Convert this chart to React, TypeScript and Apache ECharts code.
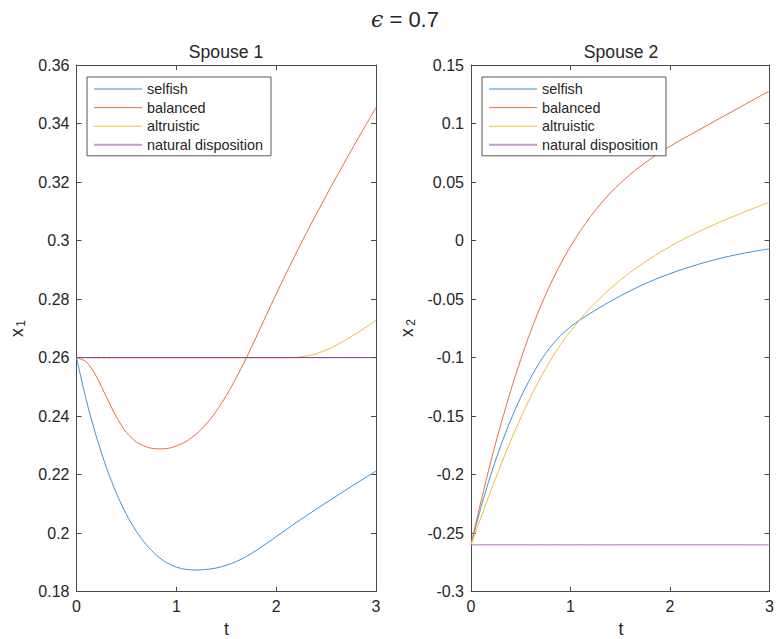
import React, { useEffect, useRef } from "react";
import * as echarts from "echarts";

const T = [0, 0.1, 0.2, 0.3, 0.4, 0.5, 0.6, 0.7, 0.8, 0.9, 1.0, 1.1, 1.2, 1.3, 1.4, 1.5, 1.6, 1.7, 1.8, 1.9, 2.0, 2.1, 2.2, 2.3, 2.4, 2.5, 2.6, 2.7, 2.8, 2.9, 3.0];

const S1_SELFISH = [0.26, 0.2452, 0.2329, 0.2224, 0.2136, 0.2064, 0.2006, 0.196, 0.1925, 0.19, 0.1884, 0.1876, 0.1874, 0.1876, 0.1881, 0.189, 0.1903, 0.192, 0.1941, 0.1964, 0.1988, 0.2012, 0.2036, 0.2059, 0.2082, 0.2104, 0.2126, 0.2148, 0.217, 0.2191, 0.2212];
const S1_BALANCED = [0.26, 0.2585, 0.2535, 0.2465, 0.2397, 0.2344, 0.2312, 0.2295, 0.2288, 0.2289, 0.2298, 0.2314, 0.2339, 0.2373, 0.2417, 0.247, 0.2531, 0.2598, 0.267, 0.2744, 0.2817, 0.2888, 0.2957, 0.3024, 0.3089, 0.3153, 0.3215, 0.3276, 0.3337, 0.3396, 0.3455];
const S1_ALTRUISTIC = [0.26, 0.26, 0.26, 0.26, 0.26, 0.26, 0.26, 0.26, 0.26, 0.26, 0.26, 0.26, 0.26, 0.26, 0.26, 0.26, 0.26, 0.26, 0.26, 0.26, 0.26, 0.26, 0.2601, 0.2605, 0.2613, 0.2626, 0.2642, 0.2661, 0.2682, 0.2704, 0.2728];
const S1_NATURAL = [0.26, 0.26, 0.26, 0.26, 0.26, 0.26, 0.26, 0.26, 0.26, 0.26, 0.26, 0.26, 0.26, 0.26, 0.26, 0.26, 0.26, 0.26, 0.26, 0.26, 0.26, 0.26, 0.26, 0.26, 0.26, 0.26, 0.26, 0.26, 0.26, 0.26, 0.26];

const S2_SELFISH = [-0.26, -0.228, -0.1998, -0.175, -0.1532, -0.134, -0.1172, -0.1027, -0.0907, -0.0812, -0.0737, -0.0675, -0.0621, -0.0569, -0.052, -0.0473, -0.0429, -0.0388, -0.035, -0.0315, -0.0283, -0.0253, -0.0225, -0.0199, -0.0175, -0.0153, -0.0133, -0.0115, -0.0099, -0.0084, -0.007];
const S2_BALANCED = [-0.26, -0.223, -0.1885, -0.157, -0.128, -0.1015, -0.0775, -0.056, -0.037, -0.02, -0.005, 0.0084, 0.0204, 0.0311, 0.0406, 0.049, 0.0565, 0.0633, 0.0695, 0.0752, 0.0805, 0.0855, 0.0903, 0.095, 0.0997, 0.1044, 0.1091, 0.1138, 0.1185, 0.1232, 0.1279];
const S2_ALTRUISTIC = [-0.26, -0.2365, -0.2137, -0.1917, -0.1709, -0.1514, -0.1334, -0.117, -0.1022, -0.0889, -0.0774, -0.067, -0.0576, -0.049, -0.0411, -0.0338, -0.0272, -0.0211, -0.0154, -0.0101, -0.0051, -0.0004, 0.004, 0.0081, 0.012, 0.0157, 0.0193, 0.0228, 0.0262, 0.0296, 0.0329];
const S2_NATURAL = [-0.26, -0.26, -0.26, -0.26, -0.26, -0.26, -0.26, -0.26, -0.26, -0.26, -0.26, -0.26, -0.26, -0.26, -0.26, -0.26, -0.26, -0.26, -0.26, -0.26, -0.26, -0.26, -0.26, -0.26, -0.26, -0.26, -0.26, -0.26, -0.26, -0.26, -0.26];

const NAMES = ["selfish", "balanced", "altruistic", "natural disposition"];
const X_TICKS = { min: 0, max: 3, interval: 1 };
const Y1_TICKS = { min: 0.18, max: 0.36, interval: 0.02 };
const Y2_TICKS = { min: -0.3, max: 0.15, interval: 0.05 };

const FONT = "'Liberation Sans', Arial, Helvetica, sans-serif";
const TXT = "#262626";
const AXC = "#4a4a4a";
const COLORS = ["#3d92d3", "#e2703f", "#efbd3d"];
const NAT1 = "#7E2F8E";
const NAT2 = "#B266C4";

function App() {
  const ref = useRef<HTMLDivElement>(null);
  useEffect(() => {
    if (!ref.current) return;
    const chart = echarts.init(ref.current, null, { renderer: "svg" });
    const pair = (vals: number[]) => T.map((t, i) => [t, vals[i]]);

    const grids = [
      { left: 76.5, top: 65, width: 299.5, height: 526.7 },
      { left: 471, top: 65, width: 300, height: 526.7 },
    ];
    const xAxes: any[] = [];
    const yAxes: any[] = [];
    [0, 1].forEach((g) => {
      const yt = g === 0 ? Y1_TICKS : Y2_TICKS;
      xAxes.push({
        type: "value", gridIndex: g, position: "bottom", ...X_TICKS,
        axisLine: { show: true, onZero: false, lineStyle: { color: AXC, width: 1 } },
        axisTick: { show: true, inside: true, length: 5, lineStyle: { color: AXC } },
        axisLabel: { show: true, margin: 7, fontSize: 16, color: TXT, fontFamily: FONT },
        splitLine: { show: false },
      });
      xAxes.push({
        type: "value", gridIndex: g, position: "top", ...X_TICKS,
        axisLine: { show: true, onZero: false, lineStyle: { color: AXC, width: 1 } },
        axisTick: { show: true, inside: true, length: 5, lineStyle: { color: AXC } },
        axisLabel: { show: false },
        splitLine: { show: false },
      });
      yAxes.push({
        type: "value", gridIndex: g, position: "left", ...yt,
        axisLine: { show: true, onZero: false, lineStyle: { color: AXC, width: 1 } },
        axisTick: { show: true, inside: true, length: 5, lineStyle: { color: AXC } },
        axisLabel: { show: true, margin: 7, fontSize: 16, color: TXT, fontFamily: FONT },
        splitLine: { show: false },
      });
      yAxes.push({
        type: "value", gridIndex: g, position: "right", ...yt,
        axisLine: { show: true, onZero: false, lineStyle: { color: AXC, width: 1 } },
        axisTick: { show: true, inside: true, length: 5, lineStyle: { color: AXC } },
        axisLabel: { show: false },
        splitLine: { show: false },
      });
    });

    const mk = (name: string, vals: number[], color: string, g: number) => ({
      type: "line", name, data: pair(vals), xAxisIndex: g * 2, yAxisIndex: g * 2,
      symbol: "none", smooth: 0.3,
      lineStyle: { color, width: 1 }, itemStyle: { color }, z: 2,
    });

    const series = [
      mk(NAMES[0], S1_SELFISH, COLORS[0], 0),
      mk(NAMES[1], S1_BALANCED, COLORS[1], 0),
      mk(NAMES[2], S1_ALTRUISTIC, COLORS[2], 0),
      mk(NAMES[3], S1_NATURAL, NAT1, 0),
      mk(NAMES[0], S2_SELFISH, COLORS[0], 1),
      mk(NAMES[1], S2_BALANCED, COLORS[1], 1),
      mk(NAMES[2], S2_ALTRUISTIC, COLORS[2], 1),
      mk(NAMES[3], S2_NATURAL, NAT2, 1),
    ];

    const hidden = { opacity: 0, borderWidth: 0, color: "rgba(0,0,0,0)" };
    const legendData = [
      { name: NAMES[0], lineStyle: { color: COLORS[0], width: 1 }, itemStyle: hidden },
      { name: NAMES[1], lineStyle: { color: COLORS[1], width: 1 }, itemStyle: hidden },
      { name: NAMES[2], lineStyle: { color: COLORS[2], width: 1 }, itemStyle: hidden },
      { name: NAMES[3], lineStyle: { color: "#c49ad3", width: 2 }, itemStyle: hidden },
    ];
    const mkLegend = (left: number) => ({
      left, top: 77, orient: "vertical", data: legendData,
      itemWidth: 48, itemHeight: 14, itemGap: 4.6, padding: [5, 8, 4, 6],
      borderColor: "#555", borderWidth: 1, backgroundColor: "#fff",
      textStyle: { fontSize: 14.4, color: TXT, fontFamily: FONT },
      selectedMode: false, z: 10,
    });

    const txt = (x: number, y: number, text: string, size: number, extra: any = {}) => ({
      type: "text", x, y, ...extra,
      style: { text, fontSize: size, fill: TXT, fontFamily: FONT, textAlign: "center", textVerticalAlign: "middle" },
    });

    chart.setOption({
      animation: false,
      backgroundColor: "#fff",
      grid: grids,
      xAxis: xAxes,
      yAxis: yAxes,
      series,
      legend: [mkLegend(87), mkLegend(482)],
      graphic: [
        {
          type: "text", x: 371, y: 19,
          style: {
            text: "{e|ϵ} = 0.7", fontSize: 22, fill: TXT, fontFamily: FONT, textAlign: "left", textVerticalAlign: "middle",
            rich: { e: { fontFamily: "'DejaVu Serif', serif", fontStyle: "italic", fontSize: 22, fill: TXT } },
          },
        },
        txt(226, 52, "Spouse 1", 17.6),
        txt(621, 52, "Spouse 2", 17.6),
        txt(226.5, 629, "t", 17.6),
        txt(621, 629, "t", 17.6),
        txt(17, 332.5, "x", 17.6, { rotation: Math.PI / 2 }),
        txt(21, 323.5, "1", 12, { rotation: Math.PI / 2 }),
        txt(407, 332.5, "x", 17.6, { rotation: Math.PI / 2 }),
        txt(411, 322.5, "2", 12, { rotation: Math.PI / 2 }),
      ],
    });
    return () => chart.dispose();
  }, []);
  return <div ref={ref} style={{ position: "absolute", left: 0, top: 0, width: 777, height: 639 }} />;
}

export default App;
